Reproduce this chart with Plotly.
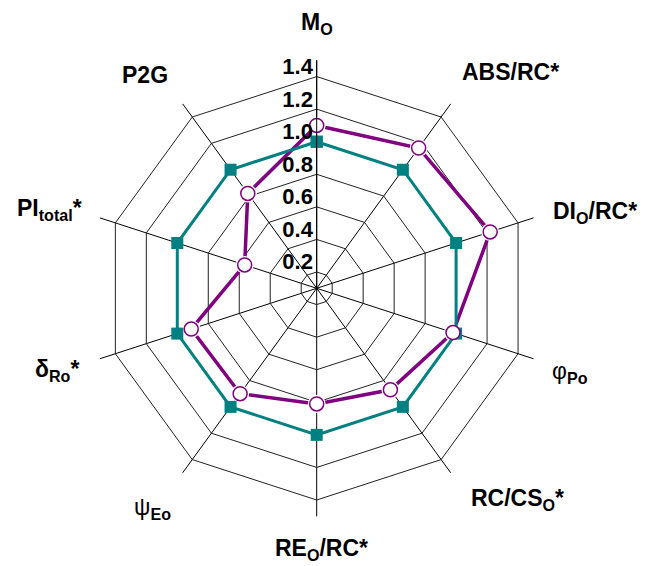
import plotly.graph_objects as go

# Parameters around the radar, clockwise from the top
categories = [
    "<b>M<sub>O</sub></b>",
    "<b>ABS/RC*</b>",
    "<b>DI<sub>O</sub>/RC*</b>",
    "φ<sub><b>Po</b></sub>",
    "<b>RC/CS<sub>O</sub>*</b>",
    "<b>RE<sub>O</sub>/RC*</b>",
    "ψ<sub><b>Eo</b></sub>",
    "<b>δ<sub>Ro</sub>*</b>",
    "<b>PI<sub>total</sub>*</b>",
    "<b>P2G</b>",
]

# Control (normalised to 1) and treated sample
control = [1.0, 1.0, 1.0, 1.0, 1.0, 1.0, 1.0, 1.0, 1.0, 1.0]
treated = [1.10, 1.165, 1.22, 0.98, 0.87, 0.81, 0.90, 0.91, 0.565, 0.82]

# Radial scale ticks
tick_values = [0.2, 0.4, 0.6, 0.8, 1.0, 1.2, 1.4]
tick_labels = ["0.2", "0.4", "0.6", "0.8", "1.0", "1.2", "1.4"]

TEAL = "#008080"
PURPLE = "#800080"
FONT = "Liberation Sans, Arial, sans-serif"

W, H = 645, 566
CX, CY, R = 316.7, 288.3, 228.0  # polar centre and outer radius in pixels
dom_x = [(CX - R) / W, (CX + R) / W]
dom_y = [(H - CY - R) / H, (H - CY + R) / H]

closed = lambda v: v + v[:1]
theta = closed(categories)

fig = go.Figure()

# treated profile line
fig.add_trace(go.Scatterpolar(
    r=closed(treated), theta=theta, mode="lines",
    line=dict(color=PURPLE, width=3.5), showlegend=False, hoverinfo="skip"))
# white halo that opens a small gap around each open circle
fig.add_trace(go.Scatterpolar(
    r=treated, theta=categories, mode="markers",
    marker=dict(symbol="circle", size=18, color="white", line=dict(width=0)),
    showlegend=False, hoverinfo="skip"))
# control profile
fig.add_trace(go.Scatterpolar(
    r=closed(control), theta=theta, mode="lines+markers",
    line=dict(color=TEAL, width=3),
    marker=dict(symbol="square", size=12, color=TEAL, line=dict(width=0)),
    showlegend=False))
# treated markers
fig.add_trace(go.Scatterpolar(
    r=treated, theta=categories, mode="markers",
    marker=dict(symbol="circle", size=14, color="white",
                line=dict(color=PURPLE, width=1.5)),
    showlegend=False))

# overlay subplot carrying the radial tick labels slightly above each ring
fig.add_trace(go.Scatterpolar(r=[], theta=[], subplot="polar2",
                              showlegend=False, hoverinfo="skip"))

fig.update_layout(
    width=W, height=H,
    margin=dict(l=0, r=0, t=0, b=0),
    paper_bgcolor="white",
    polar=dict(
        domain=dict(x=dom_x, y=dom_y),
        bgcolor="white",
        gridshape="linear",
        radialaxis=dict(
            range=[0.1, 1.5], tickvals=tick_values, showticklabels=False,
            ticks="", angle=90, showline=True, linecolor="black", linewidth=1,
            showgrid=True, gridcolor="#222", gridwidth=1),
        angularaxis=dict(
            rotation=90, direction="clockwise", showticklabels=False,
            ticks="", showline=False, showgrid=True,
            gridcolor="black", gridwidth=1),
    ),
    polar2=dict(
        domain=dict(x=dom_x, y=dom_y),
        bgcolor="rgba(0,0,0,0)",
        radialaxis=dict(
            range=[0.1, 1.5], tickvals=[v + 0.06 for v in tick_values],
            ticktext=tick_labels, angle=90, tickangle=90,
            side="counterclockwise",
            showline=False, showgrid=False, ticks="",
            tickfont=dict(family=FONT, size=22, color="black", weight="bold")),
        angularaxis=dict(visible=False, rotation=90, direction="clockwise"),
    ),
)

# category labels around the chart (pixel centres)
label_pos = [(317, 24), (510, 72), (595, 212), (570, 372), (517, 500),
             (321, 549), (152, 508), (57, 370), (49, 210), (145, 75)]
for text, (px, py) in zip(categories, label_pos):
    fig.add_annotation(
        x=px / W, y=1 - py / H, xref="paper", yref="paper",
        text=text, showarrow=False, xanchor="center", yanchor="middle",
        font=dict(family=FONT, size=23, color="black"))

fig.write_html("out.html")
